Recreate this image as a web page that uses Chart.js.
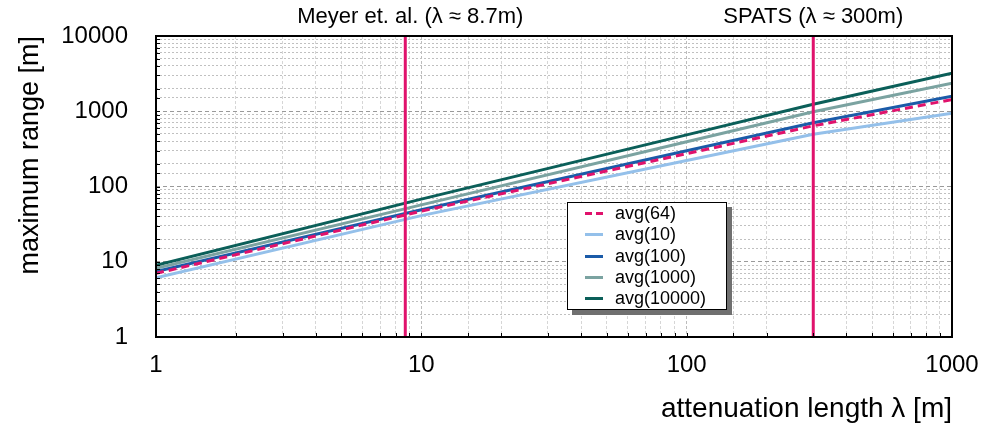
<!DOCTYPE html>
<html>
<head>
<meta charset="utf-8">
<script src="https://cdn.jsdelivr.net/npm/chart.js@4.4.1/dist/chart.umd.min.js"></script>
<style>
html, body { margin: 0; padding: 0; background: #fff; }
#wrap { position: relative; width: 998px; height: 429px; }
#legend {
    position: absolute; left: 567px; top: 202px; width: 160px; height: 108px;
    box-sizing: border-box; border: 1.5px solid #000; background: #fff;
    box-shadow: 5px 5px 0 #707070; padding-top: 0;
    font-family: 'Liberation Sans', Arial, sans-serif; font-size: 18px; color: #000;
}
#legend .row { height: 21.3px; display: flex; align-items: center; }
#legend .swatch { width: 18px; height: 3px; margin-left: 17px; margin-right: 12px; }
</style>
</head>
<body>
<div id="wrap">
    <canvas id="rangeChart" width="998" height="429"></canvas>
    <div id="legend"></div>
</div>
<script>
// attenuation length samples (x) and maximum range per averaging (y)
const lambdas = [1, 10, 100, 300, 1000];
const avg64 = [7.0, 47, 273, 640, 1430];
const avg10 = [6.1, 41, 221, 494, 940];
const avg100 = [7.4, 49, 299, 704, 1580];
const avg1000 = [8.2, 57, 394, 986, 2350];
const avg10000 = [9.0, 68, 485, 1240, 3200];

const seriesNames = ['avg(64)', 'avg(10)', 'avg(100)', 'avg(1000)', 'avg(10000)'];
const seriesValues = [avg64, avg10, avg100, avg1000, avg10000];
const seriesColors = ['#e0126c', '#94c0ea', '#1b5ba8', '#7ba3a1', '#0b5f59'];

// reference experiments (vertical lines)
const markerLambdas = [8.7, 300];
const markerLabels = ['Meyer et. al. (λ ≈ 8.7m)', 'SPATS (λ ≈ 300m)'];
const markerSpan = [1, 10000];

const xTickLabels = [1, 10, 100, 1000];
const yTickLabels = [1, 10, 100, 1000, 10000];

const FONT = "'Liberation Sans', Arial, sans-serif";
const MAGENTA = '#e0126c';
const isDecade = v => Math.abs(Math.log10(v) - Math.round(Math.log10(v))) < 1e-9;

const datasets = [];
markerLambdas.forEach((lx, i) => {
    datasets.push({
        label: markerLabels[i],
        data: markerSpan.map(y => ({x: lx, y})),
        borderColor: MAGENTA, borderWidth: 3, pointRadius: 0, order: 0
    });
});
seriesNames.forEach((name, i) => {
    datasets.push({
        label: name,
        data: lambdas.map((x, j) => ({x, y: seriesValues[i][j]})),
        borderColor: seriesColors[i], backgroundColor: seriesColors[i],
        borderWidth: 3, pointRadius: 0, tension: 0,
        borderDash: i === 0 ? [8, 5] : [],
        order: i === 0 ? 1 : 2 + i
    });
});

const framePlugin = {
    id: 'frame',
    afterDatasetsDraw(chart){
        const {ctx, chartArea: a, scales: {x, y}} = chart;
        ctx.save();
        ctx.strokeStyle = '#000';
        ctx.lineWidth = 1;
        // inward tick marks
        ctx.beginPath();
        x.ticks.forEach(t => {
            const px = Math.round(x.getPixelForValue(t.value)) + 0.5;
            ctx.moveTo(px, a.bottom); ctx.lineTo(px, a.bottom - 4);
        });
        y.ticks.forEach(t => {
            const py = Math.round(y.getPixelForValue(t.value)) + 0.5;
            ctx.moveTo(a.left, py); ctx.lineTo(a.left + 4, py);
        });
        ctx.stroke();
        ctx.lineWidth = 2;
        ctx.strokeRect(a.left, a.top, a.right - a.left, a.bottom - a.top);
        // labels above the reference lines
        ctx.fillStyle = '#000';
        ctx.font = '22px ' + FONT;
        ctx.textAlign = 'center';
        ctx.textBaseline = 'middle';
        markerLambdas.forEach((lx, i) => {
            ctx.fillText(markerLabels[i], x.getPixelForValue(lx) + (i === 0 ? 5 : 0), 17);
        });
        ctx.restore();
    }
};

const chart = new Chart(document.getElementById('rangeChart').getContext('2d'), {
    type: 'line',
    data: { datasets },
    options: {
        responsive: false,
        animation: false,
        devicePixelRatio: 1,
        layout: { padding: { top: 36, right: 46, left: 0, bottom: 0 } },
        plugins: { legend: { display: false }, tooltip: { enabled: false } },
        scales: {
            x: {
                type: 'logarithmic', min: 1, max: 1000,
                afterFit: s => { s.height = 92; s.paddingLeft = 0; s.paddingRight = 0; },
                grid: {
                    drawTicks: false,
                    color: c => isDecade(c.tick.value) ? '#bcbcbc' : '#d6d6d6',
                    lineWidth: 1
                },
                border: { display: false, dash: [3, 2] },
                ticks: {
                    autoSkip: false, maxRotation: 0, padding: 14,
                    font: { family: FONT, size: 24 }, color: '#000',
                    callback: v => xTickLabels.includes(v) ? String(v) : ''
                },
                title: {
                    display: true, text: 'attenuation length λ [m]', align: 'end',
                    font: { family: FONT, size: 28 }, color: '#000',
                    padding: { top: 0, bottom: 3 }
                }
            },
            y: {
                type: 'logarithmic', min: 1, max: 10000,
                afterFit: s => { s.width = 156; s.paddingTop = 0; s.paddingBottom = 0; },
                grid: {
                    drawTicks: false,
                    color: c => isDecade(c.tick.value) ? '#9a9a9a' : '#c0c0c0',
                    lineWidth: 1
                },
                border: { display: false, dash: c => isDecade(c.tick.value) ? [4, 3] : [2, 2] },
                ticks: {
                    autoSkip: false, padding: 28,
                    font: { family: FONT, size: 24 }, color: '#000',
                    callback: v => yTickLabels.includes(v) ? String(v) : ''
                },
                title: {
                    display: true, text: 'maximum range [m]', align: 'end',
                    font: { family: FONT, size: 27 }, color: '#000',
                    padding: { top: 14, bottom: 0 }
                }
            }
        }
    },
    plugins: [framePlugin]
});

// html legend built from the line datasets
const legendEl = document.getElementById('legend');
seriesNames.forEach((name, i) => {
    const row = document.createElement('div');
    row.className = 'row';
    const sw = document.createElement('div');
    sw.className = 'swatch';
    sw.style.background = i === 0
        ? `repeating-linear-gradient(90deg, ${seriesColors[i]} 0 7px, transparent 7px 11px)`
        : seriesColors[i];
    const txt = document.createElement('span');
    txt.textContent = name;
    row.appendChild(sw);
    row.appendChild(txt);
    legendEl.appendChild(row);
});
</script>
</body>
</html>
